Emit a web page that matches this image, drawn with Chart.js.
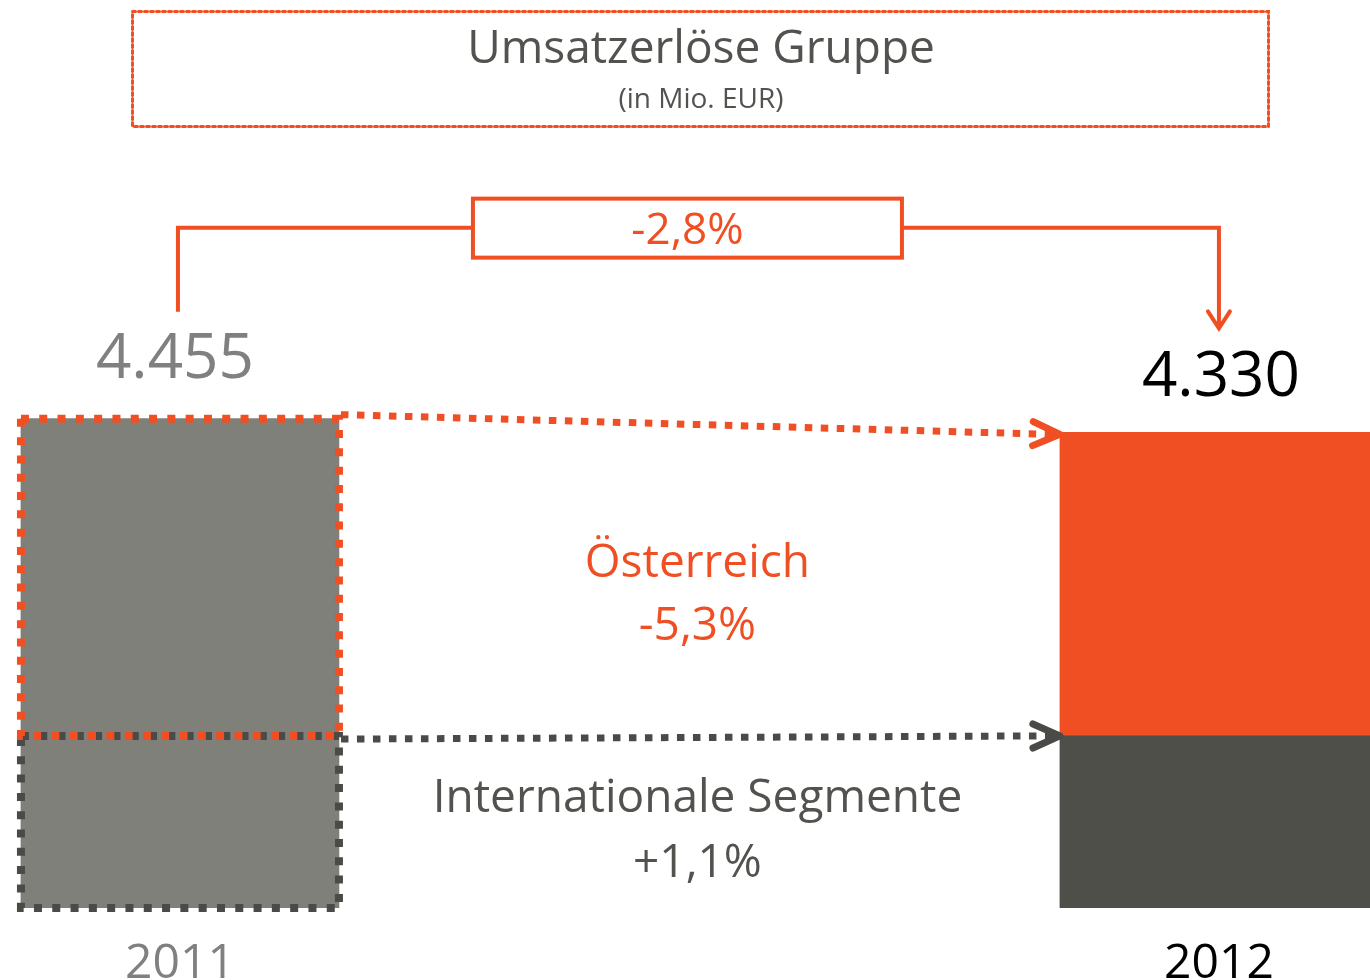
<!DOCTYPE html>
<html>
<head>
<meta charset="utf-8">
<script src="https://cdn.jsdelivr.net/npm/chart.js@4"></script>
<style>
  html, body { margin: 0; padding: 0; background: #fff; }
  #wrap { width: 1370px; height: 980px; position: relative; }
</style>
</head>
<body>
<div id="wrap"><canvas id="grafico"></canvas></div>
<script>
// Daten (in Mio. EUR)
const jahre = ['2011', '2012'];
const oesterreich = [2890, 2763];
const international = [1565, 1567];
const segmente = ['Österreich', 'Internationale Segmente'];
const veraenderungGesamt = '-2,8%';
const veraenderungSegmente = ['-5,3%', '+1,1%'];
const titel = 'Umsatzerlöse Gruppe';
const untertitel = '(in Mio. EUR)';

const ORANGE = '#f04f23';
const GRAU = '#7f807a';
const DUNKEL = '#4f4f4a';
const SCHRIFT = '#52524e';
const FONT = "'Open Sans', sans-serif";

function winkel(ctx, sx, sy, tx, ty, len, breite) {
    // offene Pfeilspitze (Chevron) an (tx, ty)
    const d = Math.hypot(tx - sx, ty - sy);
    const ux = (tx - sx) / d, uy = (ty - sy) / d;
    ctx.beginPath();
    ctx.moveTo(tx - ux * len - uy * breite, ty - uy * len + ux * breite);
    ctx.lineTo(tx, ty);
    ctx.lineTo(tx - ux * len + uy * breite, ty - uy * len - ux * breite);
    ctx.stroke();
}

function gepunktet(ctx, sx, sy, tx, ty, farbe) {
    ctx.save();
    ctx.strokeStyle = farbe;
    ctx.lineWidth = 7;
    ctx.setLineDash([7.5, 8.5]);
    ctx.beginPath();
    ctx.moveTo(sx, sy);
    ctx.lineTo(tx - 8, ty);
    ctx.stroke();
    ctx.setLineDash([]);
    ctx.lineCap = 'round';
    ctx.lineJoin = 'round';
    winkel(ctx, sx, sy, tx, ty, 27, 12);
    ctx.restore();
}

const annotationen = {
    id: 'annotationen',
    afterDatasetsDraw(chart) {
        const ctx = chart.ctx;
        const unten = chart.getDatasetMeta(0).data;
        const oben = chart.getDatasetMeta(1).data;
        const [o0, o1] = oben;
        const [u0, u1] = unten;
        const l0 = o0.x - o0.width / 2, r0 = o0.x + o0.width / 2;
        const l1 = o1.x - o1.width / 2;

        // gepunktete Umrandung 2011
        ctx.save();
        ctx.lineWidth = 8;
        ctx.setLineDash([8, 10.3]);
        ctx.strokeStyle = '#4a4a46';
        ctx.strokeRect(l0, u0.y, r0 - l0, u0.base - u0.y);
        ctx.strokeStyle = ORANGE;
        ctx.strokeRect(l0, o0.y, r0 - l0, o0.base - o0.y);
        ctx.restore();

        // Pfeile zwischen den Segmenten
        gepunktet(ctx, r0 + 2, o0.y - 4, l1, o1.y + 2, ORANGE);
        gepunktet(ctx, r0 + 2, u0.y + 3, l1, u1.y, '#4a4a46');

        // Klammer mit Gesamtveränderung
        const bY = Math.min(o0.y, o1.y) - 191;
        const xl = o0.x - 2, xr = o1.x;
        const boxB = 429, boxH = 59;
        const boxX = (xl + xr) / 2 - 11 - boxB / 2;
        ctx.save();
        ctx.strokeStyle = ORANGE;
        ctx.lineWidth = 4;
        ctx.beginPath();
        ctx.moveTo(xl, o0.y - 107);
        ctx.lineTo(xl, bY);
        ctx.lineTo(boxX, bY);
        ctx.moveTo(boxX + boxB, bY);
        ctx.lineTo(xr, bY);
        ctx.lineTo(xr, o1.y - 104);
        ctx.stroke();
        ctx.strokeRect(boxX, bY - 29, boxB, boxH);
        ctx.lineCap = 'round';
        winkel(ctx, xr, bY, xr, o1.y - 104, 17, 11);
        ctx.fillStyle = ORANGE;
        ctx.font = '44px ' + FONT;
        ctx.textAlign = 'center';
        ctx.textBaseline = 'alphabetic';
        ctx.fillText(veraenderungGesamt, boxX + boxB / 2, bY + 16);

        // Summen über den Balken
        ctx.font = '62px ' + FONT;
        const summen = jahre.map((_, i) => oesterreich[i] + international[i]);
        ctx.fillStyle = '#808080';
        ctx.fillText(summen[0].toLocaleString('de-DE'), o0.x - 5, o0.y - 41);
        ctx.fillStyle = '#000';
        ctx.fillText(summen[1].toLocaleString('de-DE'), o1.x + 2, o1.y - 36);

        // Segmentbeschriftungen in der Mitte
        const mx = (r0 + l1) / 2 - 2;
        const mOben = (o0.y + o0.base + o1.y + o1.base) / 4;
        const mUnten = (u0.y + u0.base + u1.y + u1.base) / 4;
        ctx.font = '46px ' + FONT;
        ctx.fillStyle = ORANGE;
        ctx.fillText(segmente[0], mx, mOben - 4);
        ctx.fillText(veraenderungSegmente[0], mx, mOben + 59);
        ctx.fillStyle = SCHRIFT;
        ctx.fillText(segmente[1], mx, mUnten - 10);
        ctx.fillText(veraenderungSegmente[1], mx, mUnten + 55);

        // Titelkasten
        ctx.fillStyle = SCHRIFT;
        ctx.font = '46px ' + FONT;
        ctx.fillText(titel, 701, 63);
        ctx.font = '28px ' + FONT;
        ctx.fillText(untertitel, 701, 108);
        ctx.strokeStyle = ORANGE;
        ctx.lineWidth = 3;
        ctx.setLineDash([3, 3]);
        ctx.strokeRect(132.5, 11.5, 1136, 115);
        ctx.restore();
    }
};

new Chart(document.getElementById('grafico'), {
    type: 'bar',
    data: {
        datasets: [
            {
                label: segmente[1],
                data: jahre.map((_, i) => ({ x: i, y: international[i] })),
                backgroundColor: [GRAU, DUNKEL],
                barThickness: 318,
                borderWidth: 0
            },
            {
                label: segmente[0],
                data: jahre.map((_, i) => ({ x: i, y: oesterreich[i] })),
                backgroundColor: [GRAU, ORANGE],
                barThickness: 318,
                borderWidth: 0
            }
        ]
    },
    options: {
        responsive: true,
        maintainAspectRatio: false,
        animation: false,
        // negatives Padding unten: Jahreszahlen tiefer, Balkenbasis bleibt bei 908 px
        layout: { padding: { top: 0, left: 0, right: 0, bottom: -40 } },
        plugins: {
            legend: { display: false },
            title: { display: false },
            tooltip: { enabled: false }
        },
        scales: {
            x: {
                type: 'linear',
                stacked: true,
                offset: false,
                min: -0.1732,
                max: 1.1454,
                grid: { display: false, drawTicks: false },
                border: { display: false },
                afterBuildTicks: (achse) => { achse.ticks = jahre.map((_, i) => ({ value: i })); },
                ticks: {
                    callback: (v) => jahre[v],
                    padding: 32,
                    autoSkip: false,
                    maxRotation: 0,
                    color: (c) => c.index === 0 ? '#808080' : '#000',
                    font: { family: FONT, size: 48, lineHeight: 1 }
                }
            },
            y: { display: false, stacked: true, min: 0, max: 8266 }
        }
    },
    plugins: [annotationen]
});
</script>
</body>
</html>
